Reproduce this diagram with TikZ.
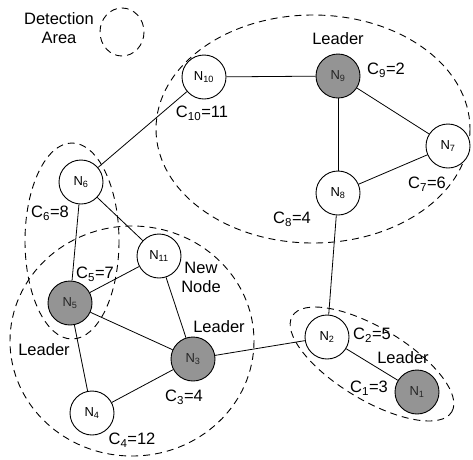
\documentclass[tikz,border=0pt]{standalone}
\usepackage{fontspec}
\setmainfont{Liberation Sans}
\begin{document}
\begin{tikzpicture}[x=1pt,y=-1pt,
  nd/.style={circle,draw,line width=0.9pt,minimum size=44pt,inner sep=0pt,
    fill=white,font=\fontsize{13}{15}\selectfont},
  lead/.style={nd,fill=black!42,text=black!85},
  link/.style={line width=0.8pt},
  area/.style={dashed,dash pattern=on 7pt off 5pt,line width=0.9pt},
  lbl/.style={inner sep=0pt,font=\fontsize{16.5}{19}\selectfont}]
\useasboundingbox (0,0) rectangle (473,459);

% detection / cluster areas
\draw[area] (122,32) ellipse [x radius=22, y radius=24];
\draw[area] (313,129) ellipse [x radius=157, y radius=114];
\draw[area] (72,241) ellipse [x radius=47, y radius=98];
\draw[area] (132,341) ellipse [x radius=122, y radius=115];
\draw[area,rotate around={-31:(372,364)}] (372,364) ellipse [x radius=93pt, y radius=36pt];

% sensor nodes
\node[nd]   (n10) at (204,77)  {N\textsubscript{10}};
\node[lead] (n9)  at (338,76)  {N\textsubscript{9}};
\node[nd]   (n7)  at (448,146) {N\textsubscript{7}};
\node[nd]   (n8)  at (338,193) {N\textsubscript{8}};
\node[nd]   (n6)  at (81,182)  {N\textsubscript{6}};
\node[nd]   (n11) at (159,256) {N\textsubscript{11}};
\node[lead] (n5)  at (70,303)  {N\textsubscript{5}};
\node[lead] (n3)  at (193,359) {N\textsubscript{3}};
\node[nd]   (n4)  at (92,413)  {N\textsubscript{4}};
\node[nd]   (n2)  at (327,337) {N\textsubscript{2}};
\node[lead] (n1)  at (417,392) {N\textsubscript{1}};

% links
\draw[link] (n10) -- (n9);
\draw[link] (n10) -- (n6);
\draw[link] (n9) -- (n8);
\draw[link] (n9) -- (n7);
\draw[link] (n7) -- (n8);
\draw[link] (n8) -- (n2);
\draw[link] (n2) -- (n3);
\draw[link] (n2) -- (n1);
\draw[link] (n6) -- (n5);
\draw[link] (n6) -- (n11);
\draw[link] (n11) -- (n5);
\draw[link] (n11) -- (n3);
\draw[link] (n5) -- (n3);
\draw[link] (n5) -- (n4);
\draw[link] (n4) -- (n3);

% labels
\node[lbl,align=center] (det) at (59,28) {Detection\\Area};
\node[lbl] (l9)  at (338,39)  {Leader};
\node[lbl] (c9)  at (386,70)  {C\textsubscript{9}=2};
\node[lbl] (c7)  at (427,184) {C\textsubscript{7}=6};
\node[lbl] (c8)  at (292,219) {C\textsubscript{8}=4};
\node[lbl] (c10) at (202,113) {C\textsubscript{10}=11};
\node[lbl] (c6)  at (50,213)  {C\textsubscript{6}=8};
\node[lbl] (c5)  at (95,274)  {C\textsubscript{5}=7};
\node[lbl,align=center] (new) at (201,277) {New\\Node};
\node[lbl] (l3)  at (219,327) {Leader};
\node[lbl] (l5)  at (44,350)  {Leader};
\node[lbl] (c3)  at (184,397) {C\textsubscript{3}=4};
\node[lbl] (c4)  at (132,440) {C\textsubscript{4}=12};
\node[lbl] (c2)  at (372,335) {C\textsubscript{2}=5};
\node[lbl] (l1)  at (403,358) {Leader};
\node[lbl] (c1)  at (369,388) {C\textsubscript{1}=3};
\end{tikzpicture}
\end{document}
